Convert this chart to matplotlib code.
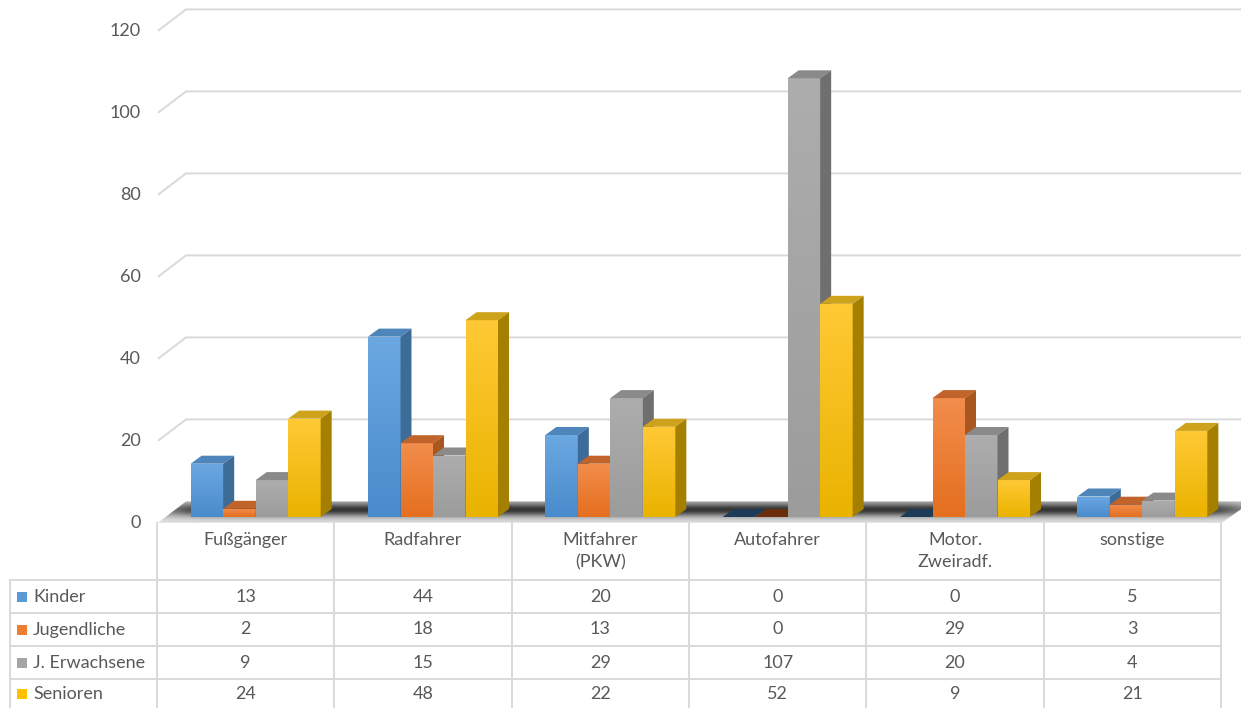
import numpy as np
import matplotlib
matplotlib.use("Agg")
import matplotlib.pyplot as plt
from matplotlib.patches import Polygon, Rectangle
from matplotlib.colors import LinearSegmentedColormap

# ---------------- data ----------------
categories = ["Fußgänger", "Radfahrer", "Mitfahrer\n(PKW)", "Autofahrer", "Motor.\nZweiradf.", "sonstige"]
series_names = ["Kinder", "Jugendliche", "J. Erwachsene", "Senioren"]
kinder = [13, 44, 20, 0, 0, 5]
jugendliche = [2, 18, 13, 0, 29, 3]
erwachsene = [9, 15, 29, 107, 20, 4]
senioren = [24, 48, 22, 52, 9, 21]
y_ticks = [0, 20, 40, 60, 80, 100, 120]

series = [kinder, jugendliche, erwachsene, senioren]
front_cols = ["#5b9bd5", "#ed7d31", "#a5a5a5", "#ffc000"]
front_light = ["#6ba8e2", "#f28d4c", "#adadad", "#ffc935"]
front_dark = ["#4a8bcc", "#e56f1f", "#9c9c9c", "#eab300"]
top_cols = ["#4e85bb", "#c0642c", "#8a8a8a", "#cfa21c"]
side_cols = ["#3e6c98", "#a9561f", "#6f6f6f", "#a47f00"]
zero_cols = ["#1e3b58", "#6a2e0c", "#555555", "#7a5e00"]

plt.rcParams["font.family"] = ["Lato", "DejaVu Sans"]
TXT = "#595959"
FS = 13
GRID = "#d9d9d9"

W, H = 1241, 708
fig = plt.figure(figsize=(W / 100, H / 100), dpi=100)
fig.patch.set_facecolor("white")

# calibration of the chart axes (pixels -> data units)
col_w = (1221 - 157) / 6.0
x0_px = 157
PPU = 4.1          # pixels per value unit
base_px = 517


def px2x(px):
    return -0.5 + (px - x0_px) / col_w


def px2y(py):
    return (base_px - py) / PPU


ax = fig.add_axes([0, 0, 1, 1])
ax.set_xlim(px2x(0), px2x(W))
ax.set_ylim(px2y(H), px2y(0))
ax.axis("off")

# back wall gridlines
for v in y_ticks[1:]:
    ax.plot([px2x(158), px2x(186), px2x(W + 5)], [v - 1.4, v + 3.8, v + 3.8],
            color=GRID, lw=1.4, zorder=1, solid_capstyle="butt")
    ax.text(px2x(141), v - 1.5, str(v), ha="right", va="center", fontsize=FS, color=TXT)
ax.text(px2x(141), -1.5, "0", ha="right", va="center", fontsize=FS, color=TXT)

# floor with shading
floor = Polygon([(px2x(158), -1.4), (px2x(1222), -1.4), (px2x(1252), 3.8), (px2x(186), 3.8)],
                closed=True, facecolor="none", edgecolor="none")
ax.add_patch(floor)
ny, nx = 80, 400
t = np.linspace(0, 1, ny)[:, None]          # 0 front, 1 back
u = np.linspace(0, 1, nx)[None, :]
edge_fade = np.clip(u * 25, 0, 1) * np.clip((1 - u) * 25, 0, 1)
shade = 0.88 - (0.6 * np.exp(-((t - 0.6) / 0.3) ** 2) + 0.12 * t) * (0.45 + 0.55 * edge_fade)
shade = np.clip(shade, 0, 1)
img = ax.imshow(shade, cmap="gray", vmin=0, vmax=1, origin="lower", aspect="auto",
                extent=[px2x(158), px2x(1252), -1.4, 3.8], zorder=2, interpolation="bilinear")
img.set_clip_path(floor)

# 3D bars
bar_w = 32.5 / col_w
dx = 11 / col_w
dy = 8 / PPU
group_off = -55 / col_w
grad = np.linspace(0, 1, 64)[:, None]
for i in range(len(categories)):
    for s, vals in enumerate(series):
        left = i + group_off + s * bar_w
        h = vals[i]
        z = 3 + s
        if h > 0:
            bars = ax.bar(left, h, width=bar_w, align="edge", color=front_cols[s], edgecolor="none", zorder=z)
            cmap = LinearSegmentedColormap.from_list("g%d" % s, [front_dark[s], front_light[s]])
            gi = ax.imshow(grad, cmap=cmap, origin="lower", aspect="auto",
                           extent=[left, left + bar_w, 0, h], zorder=z, interpolation="bilinear")
            gi.set_clip_path(bars.patches[0])
            ax.add_patch(Polygon([(left, h), (left + bar_w, h), (left + bar_w + dx, h + dy), (left + dx, h + dy)],
                                 closed=True, facecolor=top_cols[s], edgecolor="none", zorder=z))
            ax.add_patch(Polygon([(left + bar_w, 0), (left + bar_w + dx, dy), (left + bar_w + dx, h + dy), (left + bar_w, h)],
                                 closed=True, facecolor=side_cols[s], edgecolor="none", zorder=z))
        else:
            ax.add_patch(Polygon([(left, 0), (left + bar_w, 0), (left + bar_w + dx, dy), (left + dx, dy)],
                                 closed=True, facecolor=zero_cols[s], edgecolor="none", zorder=z))
ax.set_xlim(px2x(0), px2x(W))
ax.set_ylim(px2y(H), px2y(0))

# ---------------- data table ----------------
tax = fig.add_axes([0, 0, 1, 1], facecolor="none")
tax.set_xlim(0, W)
tax.set_ylim(H, 0)
tax.axis("off")

cols = [157 + k * col_w for k in range(7)]
rows = [580, 613, 646, 679, 712]
for c in cols:
    tax.plot([c, c], [523, H], color=GRID, lw=1.4)
tax.plot([10, 10], [rows[0], H], color=GRID, lw=1.4)
for r in rows[:-1]:
    tax.plot([10, cols[-1]], [r, r], color=GRID, lw=1.4)

for k, cat in enumerate(categories):
    cx = (cols[k] + cols[k + 1]) / 2
    tax.text(cx, 532, cat, ha="center", va="top", fontsize=FS, color=TXT, linespacing=1.45)

for s, (name, vals) in enumerate(zip(series_names, series)):
    cy = (rows[s] + rows[s + 1]) / 2 - (0 if s < 3 else 1.5)
    tax.add_patch(Rectangle((17, cy - 5), 10, 10, facecolor=front_cols[s], edgecolor="none"))
    tax.text(33, cy, name, ha="left", va="center", fontsize=FS, color=TXT)
    for k, v in enumerate(vals):
        cx = (cols[k] + cols[k + 1]) / 2
        tax.text(cx, cy, str(v), ha="center", va="center", fontsize=FS, color=TXT)

fig.savefig("out.png", dpi=100)
